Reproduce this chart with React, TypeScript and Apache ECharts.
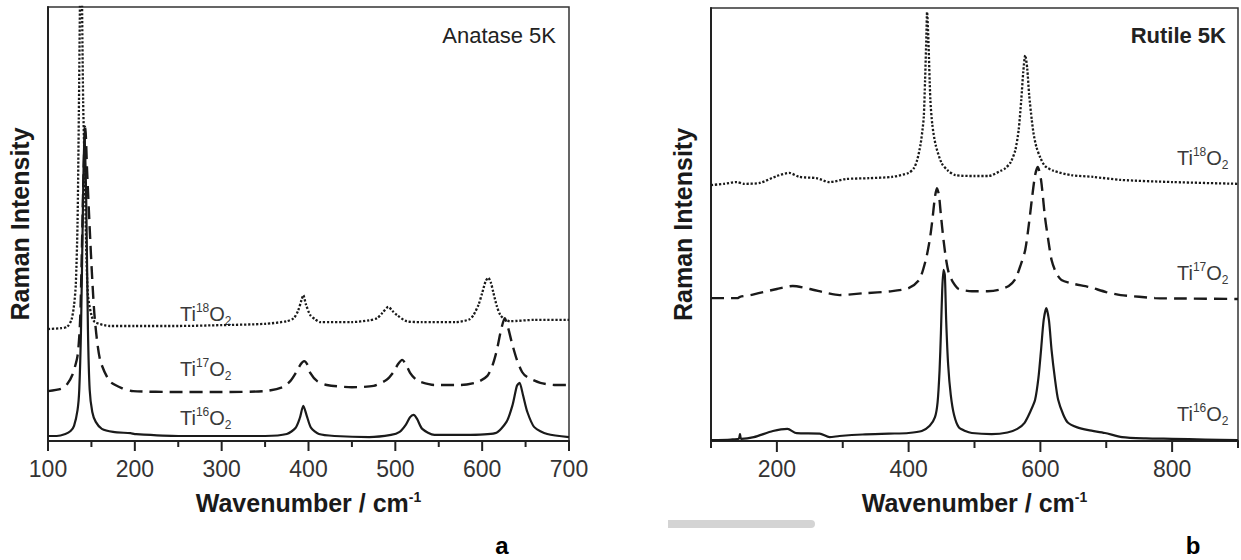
import React, { useEffect, useRef } from "react";
import * as echarts from "echarts";

// ---- Data (wavenumber cm^-1, Raman intensity in arbitrary offset units) ----
const anataseTi16O2: [number, number][] = [
  [100, 1.15], [110, 1.15], [120, 1.6], [126, 2.3], [130, 3.5], [134, 7.1], [136, 11.8],
  [138, 25.6], [140, 50.9], [142, 72.4], [144, 55.5], [146, 25.6], [148, 11.8], [151, 6.7],
  [155, 4.4], [162, 2.8], [175, 2.1], [195, 1.8], [200, 1.6], [250, 1.15], [300, 1.15],
  [350, 1.15], [375, 1.6], [385, 3.0], [390, 5.3], [394, 8.1], [398, 5.8], [403, 3.0],
  [412, 1.6], [430, 1.15], [470, 0.9], [495, 1.4], [505, 2.1], [512, 3.7], [517, 5.5],
  [521, 6.0], [525, 5.1], [531, 2.8], [545, 1.4], [580, 1.4], [615, 1.8], [628, 4.4],
  [635, 8.3], [640, 12.7], [643, 13.4], [647, 10.6], [652, 6.7], [660, 3.2], [675, 1.6],
  [700, 0.9],
];
const anataseTi17O2: [number, number][] = [
  [100, 11.5], [115, 12.0], [122, 13.1], [128, 15.2], [134, 19.6], [137, 27.9], [139, 44.0],
  [141, 62.4], [143, 72.4], [145, 62.4], [148, 49.1], [151, 37.1], [154, 27.9], [160, 18.7],
  [171, 13.8], [185, 12.2], [198, 11.5], [250, 11.3], [300, 11.3], [350, 11.5], [370, 12.4],
  [379, 13.8], [386, 15.9], [391, 17.7], [395, 18.4], [399, 17.5], [402, 15.7], [410, 13.8],
  [421, 12.9], [450, 12.4], [475, 12.7], [490, 14.1], [498, 15.9], [503, 17.7], [508, 18.7],
  [512, 17.7], [517, 15.7], [523, 14.3], [529, 13.6], [545, 12.9], [575, 12.9], [595, 13.6],
  [606, 15.0], [612, 17.5], [617, 21.0], [621, 24.9], [626, 28.3], [630, 26.0], [634, 22.8],
  [640, 18.7], [646, 15.9], [652, 14.7], [667, 13.4], [685, 12.9], [700, 12.9],
];
const anataseTi18O2: [number, number][] = [
  [100, 25.8], [115, 26.0], [122, 26.3], [127, 27.9], [130, 31.3], [132, 36], [134, 50],
  [135.5, 75], [137, 105], [138, 125], [139, 105], [140.5, 78], [142.5, 60], [144, 45],
  [146, 33.6], [150, 29], [154, 27.4], [171, 26.5], [200, 26.5], [250, 26.5], [300, 26.7],
  [350, 27.0], [375, 27.6], [383, 28.3], [388, 30.0], [392, 32.5], [394, 33.6], [397, 31.5],
  [402, 29.0], [408, 28.0], [413, 27.4], [450, 27.4], [470, 27.8], [479, 28.3], [485, 29.5],
  [492, 30.9], [497, 29.9], [502, 29.0], [513, 27.6], [530, 27.4], [570, 27.4], [585, 28.0],
  [590, 29.0], [596, 31.5], [600, 34.1], [604, 36.8], [607, 37.6], [610, 36.5], [613, 34.1],
  [617, 31.0], [621, 29.0], [627, 27.9], [632, 27.6], [660, 27.9], [700, 27.9],
];

const rutileTi16O2: [number, number][] = [
  [100, 0.2], [130, 0.35], [142, 0.5], [144, 1.6], [146, 0.5], [165, 0.9], [194, 2.3],
  [216, 2.8], [230, 1.8], [265, 1.7], [280, 0.9], [295, 1.15], [330, 1.5], [370, 1.7],
  [400, 1.85], [420, 2.3], [432, 3.5], [440, 5.5], [444, 9.0], [447, 16.4], [449, 24.9],
  [451, 34.9], [453, 39.5], [455, 38.3], [457, 27.9], [460, 17.6], [464, 10.6], [469, 6.0],
  [476, 3.2], [486, 2.3], [496, 1.85], [526, 1.6], [550, 1.96], [565, 2.8], [576, 4.2],
  [586, 7.2], [592, 9.5], [597, 14.5], [601, 21.0], [605, 27.9], [609, 30.7], [613, 27.9],
  [617, 21.0], [622, 14.5], [627, 9.5], [635, 6.0], [642, 4.2], [655, 3.2], [673, 2.5],
  [698, 1.85], [724, 0.9], [760, 0.6], [800, 0.5], [850, 0.35], [900, 0.2],
];
const rutileTi17O2: [number, number][] = [
  [100, 33.0], [140, 33.0], [144, 33.3], [160, 33.7], [174, 34.2], [200, 35.1], [224, 35.8],
  [250, 35.1], [275, 34.2], [295, 33.7], [330, 34.1], [375, 34.6], [400, 35.3], [416, 37.2],
  [426, 41.8], [432, 46.4], [436, 51.0], [440, 56.4], [443, 58.4], [446, 56.8], [449, 52.2],
  [453, 46.4], [457, 41.8], [461, 38.8], [468, 36.5], [476, 35.1], [496, 34.6], [520, 34.6],
  [537, 34.9], [552, 35.8], [562, 37.4], [570, 40.6], [577, 44.1], [583, 50.6], [587, 55.7],
  [592, 61.4], [596, 63.3], [601, 60.3], [607, 51.7], [612, 46.4], [617, 41.8], [624, 38.8],
  [632, 37.2], [650, 36.3], [673, 35.6], [700, 34.4], [722, 33.7], [750, 33.3], [774, 33.0],
  [820, 32.9], [900, 32.8],
];
const rutileTi18O2: [number, number][] = [
  [100, 59.1], [120, 59.4], [139, 59.8], [150, 59.4], [174, 59.6], [200, 61.2], [219, 61.9],
  [234, 61.0], [260, 60.7], [280, 59.8], [305, 60.5], [340, 60.7], [375, 61.0], [400, 61.9],
  [408, 63.0], [413, 64.9], [418, 68.4], [421, 71.8], [423, 74.8], [425, 83.4], [427, 93.8],
  [428, 99.1], [430, 92.6], [433, 78.8], [436, 73.0], [441, 68.4], [450, 64.2], [460, 62.4],
  [471, 61.4], [500, 61.2], [521, 61.2], [540, 62.4], [547, 63.0], [555, 64.4], [562, 67.2],
  [567, 71.8], [571, 78.8], [574, 85.2], [577, 89.1], [580, 86.1], [583, 79.9], [587, 74.1],
  [590, 70.7], [594, 67.9], [600, 65.4], [607, 63.5], [620, 62.4], [647, 61.4], [680, 61.0],
  [722, 60.3], [800, 59.8], [900, 59.4],
];

// tick values
const anataseMajorTicks = [100, 200, 300, 400, 500, 600, 700];
const anataseMinorTicks = [150, 250, 350, 450, 550, 650];
const rutileMajorTicks = [200, 400, 600, 800];
const rutileMinorTicks = [100, 300, 500, 700, 900];

const FONT = '"Liberation Sans", Arial, Helvetica, sans-serif';
const INK = "#1a1a1a";

function tiLabel(x: number, y: number, mass: string) {
  return {
    type: "text",
    x,
    y,
    style: {
      text: `{m|Ti}{s|${mass}}{m|O}{b|2}`,
      verticalAlign: "middle",
      align: "left",
      rich: {
        m: { fontSize: 20, fontFamily: FONT, fill: "#3a3a3a", lineHeight: 22, verticalAlign: "bottom" },
        s: { fontSize: 12, fontFamily: FONT, fill: "#3a3a3a", lineHeight: 12, verticalAlign: "top" },
        b: { fontSize: 12, fontFamily: FONT, fill: "#3a3a3a", lineHeight: 12, verticalAlign: "bottom", padding: [0, 0, -3, 0] },
      },
    },
  };
}

const axisNameRich = {
  sup: { fontSize: 14, fontWeight: "bold", fontFamily: FONT, color: INK, verticalAlign: "top", lineHeight: 14 },
  n: { fontSize: 25, fontWeight: "bold", fontFamily: FONT, color: INK, lineHeight: 26 },
};

// outward axis ticks, positioned through the axis scale
function tickSeries(axisIdx: number, values: number[], len: number) {
  return {
    type: "custom",
    xAxisIndex: axisIdx,
    yAxisIndex: axisIdx,
    clip: false,
    silent: true,
    z: 10,
    data: values.map((v) => [v]),
    renderItem: (_params: any, api: any) => {
      const p = api.coord([api.value(0), 0]);
      return {
        type: "line",
        shape: { x1: p[0], y1: p[1], x2: p[0], y2: p[1] + len },
        style: { stroke: "#222", lineWidth: 2 },
      };
    },
  };
}

export default function App() {
  const ref = useRef<HTMLDivElement>(null);
  useEffect(() => {
    if (!ref.current) return;
    const chart = echarts.init(ref.current, undefined, { renderer: "svg" });
    const lineBase = (type: any, width: number) => ({
      type: "line",
      showSymbol: false,
      symbol: "none",
      smooth: 0.25,
      clip: true,
      lineStyle: { color: INK, width, type },
    });
    const xAxisCommon = {
      type: "value", position: "bottom",
      axisLine: { show: true, onZero: false, lineStyle: { color: "#222", width: 2 } },
      axisTick: { show: false },
      splitLine: { show: false },
      nameLocation: "middle", nameGap: 49,
      name: "{n|Wavenumber / cm}{sup|-1}",
      nameTextStyle: { rich: axisNameRich },
    };
    const yAxisCommon = {
      type: "value", min: 0, max: 100,
      axisLine: { show: true, lineStyle: { color: "#222", width: 2 } },
      axisTick: { show: false }, axisLabel: { show: false }, splitLine: { show: false },
      name: "Raman Intensity", nameLocation: "middle", nameGap: 16,
      nameTextStyle: { fontSize: 25, fontWeight: "bold", fontFamily: FONT, color: INK },
    };
    const option: any = {
      animation: false,
      backgroundColor: "#ffffff",
      grid: [
        { left: 48, top: 7, width: 521, height: 434, show: true, borderColor: "#333", borderWidth: 1.5 },
        { left: 711, top: 8, width: 528, height: 433, show: true, borderColor: "#333", borderWidth: 1.5 },
      ],
      xAxis: [
        {
          ...xAxisCommon, gridIndex: 0, min: 100, max: 700, interval: 100,
          axisLabel: { fontSize: 23, color: "#333", fontFamily: FONT, margin: 16, formatter: (v: number) => (anataseMajorTicks.includes(v) ? String(v) : "") },
        },
        {
          ...xAxisCommon, gridIndex: 1, min: 100, max: 900, interval: 100,
          axisLabel: { fontSize: 23, color: "#333", fontFamily: FONT, margin: 16, formatter: (v: number) => (rutileMajorTicks.includes(v) ? String(v) : "") },
        },
      ],
      yAxis: [
        { ...yAxisCommon, gridIndex: 0 },
        { ...yAxisCommon, gridIndex: 1 },
      ],
      series: [
        { ...lineBase("solid", 2.2), name: "Anatase Ti16O2", xAxisIndex: 0, yAxisIndex: 0, data: anataseTi16O2 },
        { ...lineBase([13, 7], 2.4), name: "Anatase Ti17O2", xAxisIndex: 0, yAxisIndex: 0, data: anataseTi17O2 },
        { ...lineBase([2.2, 1.8], 2.3), name: "Anatase Ti18O2", xAxisIndex: 0, yAxisIndex: 0, data: anataseTi18O2 },
        { ...lineBase("solid", 2.2), name: "Rutile Ti16O2", xAxisIndex: 1, yAxisIndex: 1, data: rutileTi16O2 },
        { ...lineBase([13, 7], 2.4), name: "Rutile Ti17O2", xAxisIndex: 1, yAxisIndex: 1, data: rutileTi17O2 },
        { ...lineBase([2.2, 1.8], 2.3), name: "Rutile Ti18O2", xAxisIndex: 1, yAxisIndex: 1, data: rutileTi18O2 },
        tickSeries(0, anataseMajorTicks, 10),
        tickSeries(0, anataseMinorTicks, 6),
        tickSeries(1, rutileMajorTicks, 11),
        tickSeries(1, rutileMinorTicks, 7),
      ],
      graphic: [
        { type: "text", x: 556, y: 35, style: { text: "Anatase 5K", font: `22px ${FONT}`, fill: "#222", align: "right", verticalAlign: "middle" } },
        { type: "text", x: 1226, y: 35, style: { text: "Rutile 5K", font: `bold 22px ${FONT}`, fill: "#222", align: "right", verticalAlign: "middle" } },
        tiLabel(180, 313, "18"),
        tiLabel(180, 368, "17"),
        tiLabel(180, 417, "16"),
        tiLabel(1177, 157, "18"),
        tiLabel(1177, 272, "17"),
        tiLabel(1177, 413, "16"),
        { type: "text", x: 502, y: 545, style: { text: "a", font: `bold 24px ${FONT}`, fill: "#000", align: "center", verticalAlign: "middle" } },
        { type: "text", x: 1193, y: 545, style: { text: "b", font: `bold 24px ${FONT}`, fill: "#000", align: "center", verticalAlign: "middle" } },
        { type: "rect", x: 668, y: 520, shape: { width: 147, height: 8, r: [0, 4, 4, 0] }, style: { fill: "#d4d4d4" } },
      ],
    };
    chart.setOption(option);
    return () => chart.dispose();
  }, []);
  return (
    <div
      ref={ref}
      style={{ position: "fixed", left: 0, top: 0, width: 1241, height: 560, background: "#fff" }}
    />
  );
}
